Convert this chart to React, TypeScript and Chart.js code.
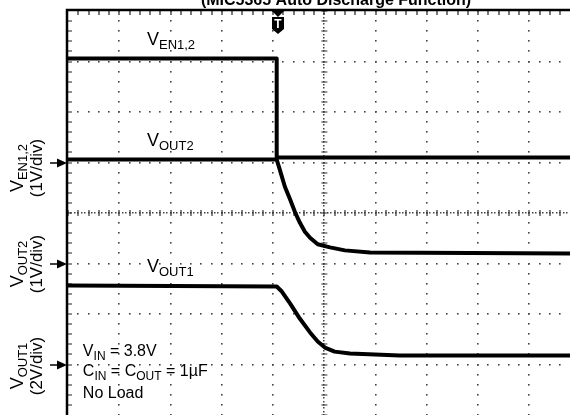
import React, { useEffect, useRef } from "react";
import { Chart, registerables } from "chart.js";
Chart.register(...registerables);

// ---- data (time in scope divisions from the left edge of the screen, values in volts) ----
const TITLE = "(MIC5365 Auto Discharge Function)";
const X_MIN = 0;
const X_MAX = 9.79;
const TRIGGER_T = 4.07;

const EN_T = [0, 4.07, 4.07, 9.79];
const EN_V = [2.06, 2.06, 0.1, 0.1];

const OUT2_T = [0, 4.07, 4.13, 4.23, 4.33, 4.43, 4.52, 4.62, 4.72, 4.87, 5.11, 5.4, 5.89, 9.79];
const OUT2_V = [2.06, 2.06, 1.86, 1.52, 1.27, 1.01, 0.81, 0.63, 0.51, 0.38, 0.32, 0.26, 0.22, 0.2];

const OUT1_T = [0, 4.07, 4.17, 4.33, 4.52, 4.72, 4.87, 5.01, 5.2, 5.5, 6.47, 9.79];
const OUT1_V = [3.13, 3.09, 2.89, 2.42, 1.82, 1.27, 0.91, 0.67, 0.51, 0.44, 0.36, 0.36];

// channel scale (V/div) and ground marker position (div from screen centre)
const EN_VDIV = 1, EN_GND = 1;
const OUT2_VDIV = 1, OUT2_GND = -1;
const OUT1_VDIV = 2, OUT1_GND = -3;

const NOTES = [
  [["V", false], ["IN", true], [" = 3.8V", false]],
  [["C", false], ["IN", true], [" = C", false], ["OUT", true], [" = 1µF", false]],
  [["No Load", false]],
];

const FONT = '"Liberation Sans", Arial, Helvetica, sans-serif';

type Seg = [string, boolean];

function drawRich(ctx: CanvasRenderingContext2D, segs: Seg[], x: number, y: number, mainPx: number, subPx: number, subDy: number, center: boolean) {
  const mf = `${mainPx}px ${FONT}`;
  const sf = `${subPx}px ${FONT}`;
  let w = 0;
  for (const [t, s] of segs) { ctx.font = s ? sf : mf; w += ctx.measureText(t).width; }
  let cx = center ? x - w / 2 : x;
  ctx.textAlign = "left";
  ctx.textBaseline = "alphabetic";
  for (const [t, s] of segs) {
    ctx.font = s ? sf : mf;
    ctx.fillText(t, cx, s ? y + subDy : y);
    cx += ctx.measureText(t).width;
  }
}

const scopePlugin = {
  id: "scope",
  beforeDatasetsDraw(chart: any) {
    const { ctx, chartArea: a, scales } = chart;
    const xs = scales.x, gs = scales.grid;
    ctx.save();
    ctx.fillStyle = "#444";
    // dotted major lines
    for (let i = 1; i <= 9; i++) {
      if (i === 5) continue;
      const px = xs.getPixelForValue(i);
      for (let k = 0; k <= 40; k++) {
        const py = gs.getPixelForValue(-4 + k * 0.2);
        ctx.fillRect(Math.round(px) - 1, Math.round(py) - 1, 1.6, 1.6);
      }
    }
    for (let j = -3; j <= 3; j++) {
      if (j === 0) continue;
      const py = gs.getPixelForValue(j);
      for (let k = 1; k * 0.2 <= X_MAX; k++) {
        const px = xs.getPixelForValue(k * 0.2);
        ctx.fillRect(Math.round(px) - 1, Math.round(py) - 1, 1.6, 1.6);
      }
    }
    // centre lines with fine dots and ticks
    const cx = xs.getPixelForValue(5), cy = gs.getPixelForValue(0);
    for (let k = 0; k <= 120; k++) {
      const py = gs.getPixelForValue(-4 + k / 15);
      ctx.fillRect(Math.round(cx) - 1, Math.round(py) - 1, 1.5, 1.5);
    }
    for (let k = 0; k * (1 / 15) <= X_MAX; k++) {
      const px = xs.getPixelForValue(k / 15);
      ctx.fillRect(Math.round(px) - 1, Math.round(cy) - 1, 1.5, 1.5);
    }
    ctx.strokeStyle = "#333";
    ctx.lineWidth = 1.2;
    ctx.beginPath();
    for (let k = 0; k <= 40; k++) {
      const py = Math.round(gs.getPixelForValue(-4 + k * 0.2));
      ctx.moveTo(cx - 3, py); ctx.lineTo(cx + 3, py);
    }
    for (let k = 0; k * 0.2 <= X_MAX; k++) {
      const px = Math.round(xs.getPixelForValue(k * 0.2));
      ctx.moveTo(px, cy - 3); ctx.lineTo(px, cy + 3);
    }
    ctx.stroke();
    // border ticks
    ctx.strokeStyle = "#222";
    ctx.lineWidth = 1.2;
    ctx.beginPath();
    for (let k = 1; k * 0.2 <= X_MAX; k++) {
      const px = Math.round(xs.getPixelForValue(k * 0.2));
      ctx.moveTo(px, a.top); ctx.lineTo(px, a.top + 4);
    }
    for (let k = 1; k < 40; k++) {
      const py = Math.round(gs.getPixelForValue(4 - k * 0.2));
      ctx.moveTo(a.left, py); ctx.lineTo(a.left + 4, py);
    }
    ctx.stroke();
    ctx.restore();
  },
  afterDatasetsDraw(chart: any) {
    const { ctx, chartArea: a, scales } = chart;
    const xs = scales.x;
    ctx.save();
    // border
    ctx.strokeStyle = "#000";
    ctx.lineWidth = 2.5;
    ctx.beginPath();
    ctx.moveTo(a.left - 1, a.bottom + 2);
    ctx.lineTo(a.left - 1, a.top - 1);
    ctx.lineTo(a.right + 2, a.top - 1);
    ctx.stroke();

    // title (cropped at the top)
    ctx.fillStyle = "#000";
    ctx.font = `bold 16px ${FONT}`;
    ctx.textAlign = "center";
    ctx.textBaseline = "alphabetic";
    ctx.fillText(TITLE, 336, 5);

    // trigger marker
    const tx = Math.round(xs.getPixelForValue(TRIGGER_T)) + 1;
    ctx.fillStyle = "#000";
    ctx.beginPath();
    ctx.moveTo(tx - 6, a.top); ctx.lineTo(tx + 6, a.top); ctx.lineTo(tx, a.top + 6); ctx.closePath();
    ctx.fill();
    ctx.beginPath();
    ctx.moveTo(tx - 6, a.top + 6);
    ctx.lineTo(tx + 6, a.top + 6);
    ctx.lineTo(tx + 6, a.top + 18);
    ctx.lineTo(tx, a.top + 23);
    ctx.lineTo(tx - 6, a.top + 18);
    ctx.closePath();
    ctx.fill();
    ctx.fillStyle = "#fff";
    ctx.font = `bold 12px ${FONT}`;
    ctx.textAlign = "center";
    ctx.fillText("T", tx, a.top + 17);

    // ground markers and channel labels
    const chans: [string, string, string, string][] = [
      ["yEN", "V", "EN1,2", "(1V/div)"],
      ["yOUT2", "V", "OUT2", "(1V/div)"],
      ["yOUT1", "V", "OUT1", "(2V/div)"],
    ];
    const offs = [5, 0, 1];
    chans.forEach(([id, m, s, d], i) => {
      const py = Math.round(scales[id].getPixelForValue(0));
      ctx.fillStyle = "#000";
      ctx.strokeStyle = "#000";
      ctx.lineWidth = 1.5;
      ctx.beginPath();
      ctx.moveTo(a.left - 18, py); ctx.lineTo(a.left - 9, py);
      ctx.stroke();
      ctx.beginPath();
      ctx.moveTo(a.left - 11, py - 4.5); ctx.lineTo(a.left - 1, py); ctx.lineTo(a.left - 11, py + 4.5); ctx.closePath();
      ctx.fill();
      const cy = py + offs[i];
      ctx.save();
      ctx.translate(23, cy);
      ctx.rotate(-Math.PI / 2);
      drawRich(ctx, [[m, false], [s, true]], 0, 0, 18, 13, 4, true);
      ctx.restore();
      ctx.save();
      ctx.translate(42, cy);
      ctx.rotate(-Math.PI / 2);
      drawRich(ctx, [[d, false]], 0, 0, 17, 12, 4, true);
      ctx.restore();
    });

    // trace labels
    const lx = xs.getPixelForValue(1.54);
    ctx.fillStyle = "#000";
    drawRich(ctx, [["V", false], ["EN1,2", true]], lx, scales.yEN.getPixelForValue(EN_V[0]) - 13, 18, 13, 4, false);
    drawRich(ctx, [["V", false], ["OUT2", true]], lx, scales.yOUT2.getPixelForValue(OUT2_V[0]) - 13, 18, 13, 4, false);
    drawRich(ctx, [["V", false], ["OUT1", true]], lx, scales.yOUT1.getPixelForValue(OUT1_V[0]) - 13, 18, 13, 4, false);

    // notes
    const nx = xs.getPixelForValue(0.29);
    const baseY = [356, 376, 398];
    NOTES.forEach((segs, i) => drawRich(ctx, segs as Seg[], nx, baseY[i], 16, 12, 4, false));
    ctx.restore();
  },
};

function pts(t: number[], v: number[]) {
  return t.map((x, i) => ({ x, y: v[i] }));
}

export default function App() {
  const ref = useRef<HTMLCanvasElement>(null);
  useEffect(() => {
    if (!ref.current) return;
    const ds = (data: any, yAxisID: string) => ({
      data,
      yAxisID,
      borderColor: "#000",
      backgroundColor: "#000",
      borderWidth: 4,
      pointRadius: 0,
      tension: 0,
      borderJoinStyle: "round" as const,
    });
    const chart = new Chart(ref.current, {
      type: "line",
      data: {
        datasets: [
          ds(pts(EN_T, EN_V), "yEN"),
          ds(pts(OUT2_T, OUT2_V), "yOUT2"),
          ds(pts(OUT1_T, OUT1_V), "yOUT1"),
        ],
      },
      options: {
        responsive: false,
        animation: false,
        devicePixelRatio: 1,
        layout: { padding: { left: 68, top: 11, right: 0, bottom: 0 } },
        plugins: { legend: { display: false }, tooltip: { enabled: false } },
        scales: {
          x: { type: "linear", axis: "x", position: "bottom", min: X_MIN, max: X_MAX, display: false },
          grid: { type: "linear", axis: "y", position: "left", min: -4, max: 4, display: false },
          yEN: { type: "linear", axis: "y", position: "left", min: (-4 - EN_GND) * EN_VDIV, max: (4 - EN_GND) * EN_VDIV, display: false },
          yOUT2: { type: "linear", axis: "y", position: "left", min: (-4 - OUT2_GND) * OUT2_VDIV, max: (4 - OUT2_GND) * OUT2_VDIV, display: false },
          yOUT1: { type: "linear", axis: "y", position: "left", min: (-4 - OUT1_GND) * OUT1_VDIV, max: (4 - OUT1_GND) * OUT1_VDIV, display: false },
        },
      } as any,
      plugins: [scopePlugin],
    });
    return () => chart.destroy();
  }, []);
  return (
    <div style={{ position: "absolute", left: 0, top: 0, width: 570, height: 415, background: "#fff", overflow: "hidden" }}>
      <canvas ref={ref} width={570} height={415} style={{ display: "block" }} />
    </div>
  );
}
